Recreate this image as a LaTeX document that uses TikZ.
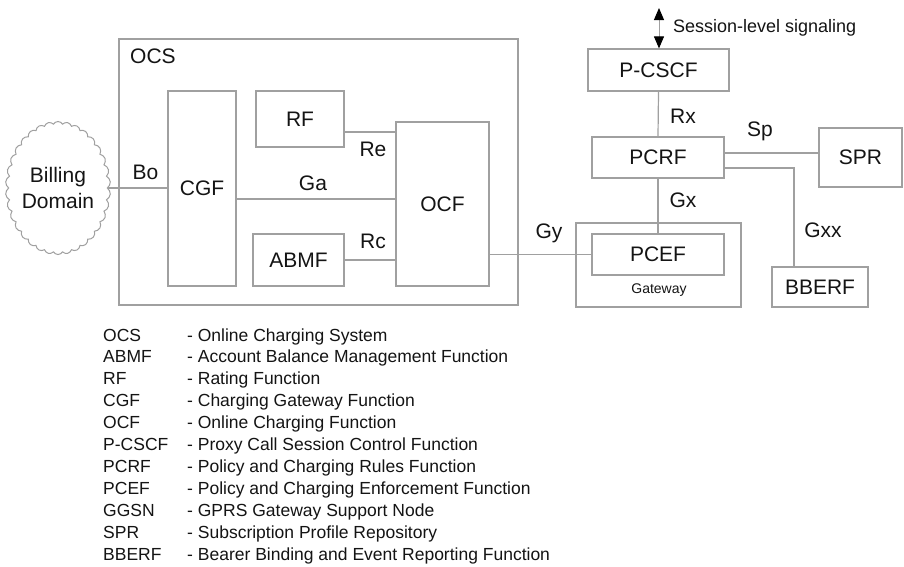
\documentclass[tikz,border=0pt]{standalone}
\usepackage{fontspec}
\setmainfont{Liberation Sans}
\usetikzlibrary{shapes.symbols,arrows.meta}
\definecolor{linegray}{RGB}{160,160,160}
\definecolor{txt}{RGB}{20,20,20}
\begin{document}
\begin{tikzpicture}[x=1pt,y=-1pt,
  every node/.style={text=txt},
  box/.style={draw=linegray,line width=1.2pt,rectangle,inner sep=0pt,
    font=\fontsize{21}{24}\selectfont},
  conn/.style={draw=linegray,line width=1.2pt},
  lbl/.style={font=\fontsize{21}{24}\selectfont,inner sep=0pt},
  leg/.style={font=\fontsize{17.5}{20}\selectfont,inner sep=0pt,anchor=base west}]
\fill[white] (0,0) rectangle (904,566);
\useasboundingbox (0,0) rectangle (904,566);

% containers
\node[box,minimum width=399pt,minimum height=266pt] (ocs) at (318.5,172) {};
\node[lbl,anchor=west] (ocslbl) at (130,56) {OCS};
\node[box,minimum width=165pt,minimum height=84pt] (gw) at (658.5,265) {};
\node[font=\fontsize{14}{16}\selectfont,inner sep=0pt] (gwlbl) at (659,290) {Gateway};

% boxes
\node[box,minimum width=68pt,minimum height=195pt] (cgf) at (202,188.5) {CGF};
\node[box,minimum width=88pt,minimum height=56pt] (rf) at (300,119) {RF};
\node[box,minimum width=91pt,minimum height=52pt] (abmf) at (298.5,260) {ABMF};
\node[box,minimum width=93pt,minimum height=164pt] (ocf) at (442.5,204) {OCF};
\node[box,minimum width=141pt,minimum height=42pt] (pcscf) at (658.5,70) {P-CSCF};
\node[box,minimum width=132pt,minimum height=41pt] (pcrf) at (658,157.5) {PCRF};
\node[box,minimum width=83pt,minimum height=59pt] (spr) at (860.5,157.5) {SPR};
\node[box,minimum width=96pt,minimum height=40pt] (bberf) at (820,287) {BBERF};
\node[box,minimum width=132pt,minimum height=41pt] (pcef) at (658,254.5) {PCEF};

\node[cloud,draw=linegray,line width=1pt,cloud puffs=34,cloud puff arc=120,
  cloud ignores aspect,minimum width=95pt,minimum height=133pt,inner sep=0pt,
  align=center,font=\fontsize{21}{26}\selectfont] (bill) at (58,188) {Billing\\Domain};

% connectors
\draw[conn] (bill.east) -- (bill.east -| cgf.west);
\draw[conn] ([yshift=-10.5pt]cgf.east) -- ([yshift=-10.5pt]cgf.east -| ocf.west);
\draw[conn] ([yshift=-13pt]rf.east) -- ([yshift=-13pt]rf.east -| ocf.west);
\draw[conn] (abmf.east) -- (abmf.east -| ocf.west);
\draw[conn] (pcef.west -| ocf.east) -- (pcef.west);
\draw[conn] (pcscf.south) -- (pcrf.north);
\draw[conn] (pcrf.south) -- (pcef.north);
\draw[conn] ([yshift=4.5pt]pcrf.east) -- ([yshift=4.5pt]pcrf.east -| spr.west);
\draw[conn] ([yshift=-10.5pt]pcrf.east) -| ([xshift=-26pt]bberf.north);

\coordinate (sig) at (659,8);
\draw[draw=linegray,line width=1pt,{Triangle[length=12pt,width=10pt,fill=black,color=black]}-{Triangle[length=12pt,width=10pt,fill=black,color=black]}] (sig) -- ([xshift=0.5pt]pcscf.north);
\node[lbl,anchor=west,font=\fontsize{18}{21}\selectfont] (siglbl) at (673,28) {Session-level signaling};

% interface labels
\node[lbl] (bo) at (145.5,172) {Bo};
\node[lbl] (ga) at (313,183) {Ga};
\node[lbl] (re) at (373,149) {Re};
\node[lbl] (rc) at (373,241) {Rc};
\node[lbl] (rx) at (683,116) {Rx};
\node[lbl] (sp) at (760,131) {Sp};
\node[lbl] (gx) at (683,200) {Gx};
\node[lbl] (gxx) at (823,230) {Gxx};
\node[lbl] (gy) at (549,233) {Gy};

% legend
\foreach \i/\a/\d in {0/OCS/Online Charging System,
  1/ABMF/Account Balance Management Function,
  2/RF/Rating Function,
  3/CGF/Charging Gateway Function,
  4/OCF/Online Charging Function,
  5/P-CSCF/Proxy Call Session Control Function,
  6/PCRF/Policy and Charging Rules Function,
  7/PCEF/Policy and Charging Enforcement Function,
  8/GGSN/GPRS Gateway Support Node,
  9/SPR/Subscription Profile Repository,
  10/BBERF/Bearer Binding and Event Reporting Function}{
  \node[leg] (la\i) at (103,{341+21.9*\i}) {\a};
  \node[leg] (ld\i) at (187,{341+21.9*\i}) {- \d};
}
\end{tikzpicture}
\end{document}
